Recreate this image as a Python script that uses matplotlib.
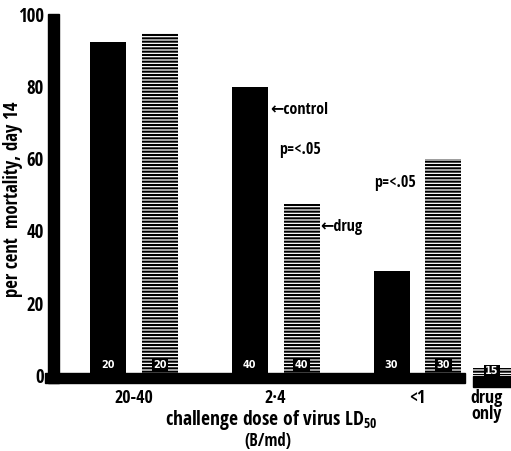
import numpy as np
import matplotlib
matplotlib.use("Agg")
import matplotlib.pyplot as plt
from matplotlib.patches import Rectangle

# values (per cent mortality, day 14)
groups = ["20-40", "2·4", "<1"]
control = [92.5, 80, 29]
drug = [95, 47.5, 60]
control_n = ["20", "40", "30"]
drug_n = ["20", "40", "30"]
drug_only = 2
drug_only_n = "15"
yticks = [0, 20, 40, 60, 80, 100]

FONT = ["Open Sans Condensed", "DejaVu Sans"]
plt.rcParams["font.family"] = FONT
plt.rcParams["font.weight"] = "bold"
plt.rcParams["mathtext.fontset"] = "custom"
plt.rcParams["mathtext.rm"] = "Open Sans Condensed:bold"
plt.rcParams["mathtext.default"] = "rm"
plt.rcParams["hatch.linewidth"] = 1.5

W, H = 511, 451
fig = plt.figure(figsize=(W / 100, H / 100), dpi=100)
ax = fig.add_axes([48 / W, 1 - 388 / H, (W - 48) / W, (388 - 12) / H])
ax.set_xlim(-0.6067, 2.660)
ax.set_ylim(-3.61, 100.83)
for s in ax.spines.values():
    s.set_visible(False)

x = np.arange(len(groups))
off, bw = 0.183, 0.254
ax.bar(x - off, control, bw, color="black", linewidth=0)
ax.bar(x + off, drug, bw, facecolor="white", edgecolor="black",
       hatch="-----", linewidth=0)
ax.bar(2.526, drug_only, 0.268, facecolor="white", edgecolor="black",
       hatch="-----", linewidth=0, clip_on=False)

# heavy axis bars
ax.add_patch(Rectangle((-0.6067, -2.2), 0.0776, 102.6, color="black",
                       clip_on=False))
ax.add_patch(Rectangle((-0.628, -2.2), 2.963, 2.75, color="black",
                       clip_on=False))
ax.add_patch(Rectangle((2.392, -3.3), 0.3, 3.0, color="black",
                       clip_on=False))

# sample sizes at the foot of each bar
nfont = dict(color="white", ha="center", va="center", fontsize=7,
             family="DejaVu Sans", fontweight="bold")
for xi, n in zip(x - off, control_n):
    ax.text(xi, 2.8, n, **nfont)
for xi, n in zip(x + off, drug_n):
    ax.text(xi, 2.8, n, bbox=dict(facecolor="black", edgecolor="none",
                                  pad=1.2), **nfont)
ax.text(2.526, 1.0, drug_only_n, bbox=dict(facecolor="black",
        edgecolor="none", pad=0.8), **nfont)

tfont = dict(fontsize=11.5, fontweight="bold", va="center")
ax.text(0.959, 73.6, "\u2190control", ha="left", **tfont)
ax.text(1.171, 62.5, "p=<.05", ha="center", **tfont)
ax.text(1.312, 41.1, "\u2190drug", ha="left", **tfont)
ax.text(1.845, 53.3, "p=<.05", ha="center", **tfont)

ax.set_yticks(yticks)
ax.set_yticklabels([str(v) for v in yticks], fontsize=13.5, fontweight="bold")
ax.set_xticks(list(x) + [2.49])
ax.set_xticklabels(groups + ["drug\nonly"], fontsize=13, fontweight="bold",
                   linespacing=0.8)
ax.tick_params(axis="both", length=0)
ax.tick_params(axis="y", pad=3)
ax.tick_params(axis="x", pad=1)

fig.text(271 / W, 1 - 420 / H, "challenge dose of virus LD$_{50}$",
         ha="center", va="center", fontsize=14, fontweight="bold")
fig.text(268 / W, 1 - 441 / H, "(B/md)", ha="center", va="center",
         fontsize=12, fontweight="bold")
fig.text(13 / W, 1 - 199 / H, "per cent  mortality, day 14", rotation=90,
         ha="center", va="center", fontsize=13.5, fontweight="bold")

fig.savefig("out.png", dpi=100)
